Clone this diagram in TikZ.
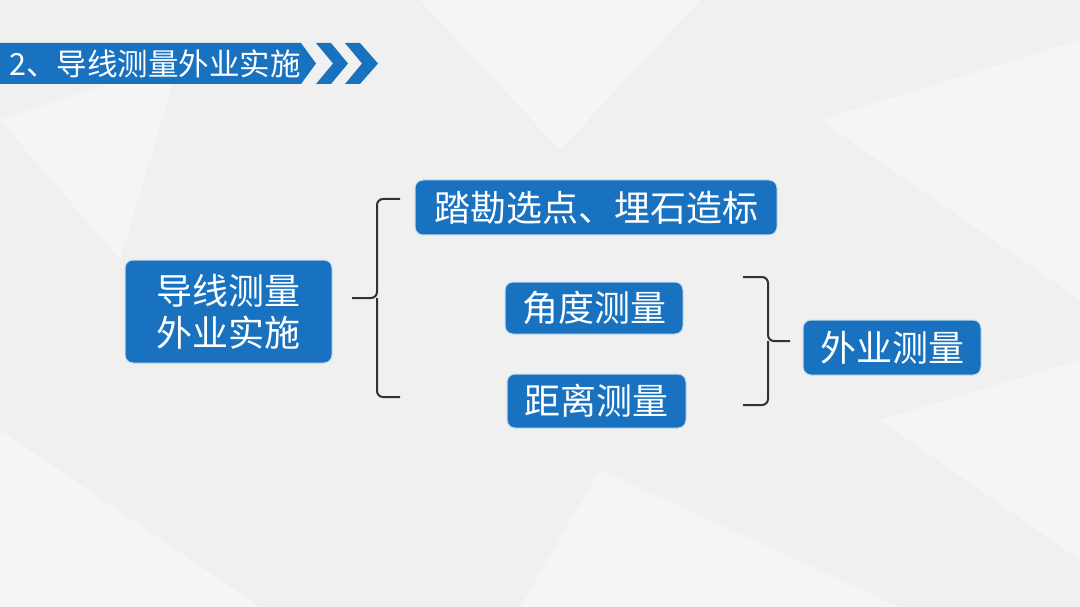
\documentclass[tikz,border=0pt]{standalone}
\usepackage{fontspec}
\setmainfont{Noto Sans CJK SC}
\definecolor{boxblue}{RGB}{24,114,192}
\definecolor{bg}{RGB}{240,240,241}
\definecolor{bgl}{RGB}{245,245,246}
\definecolor{bracecol}{RGB}{50,50,50}
\tikzset{
  bluebox/.style={fill=boxblue, draw=white!75!boxblue, line width=1pt, rounded corners=8pt,
    text=white, font=\fontsize{36}{40}\selectfont, align=center, inner sep=0pt},
  bracepath/.style={draw=bracecol, line width=2pt, rounded corners=6pt}
}
\begin{document}
\begin{tikzpicture}[x=1pt,y=-1pt]
\useasboundingbox (0,0) rectangle (1080,607);
\fill[bg] (0,0) rectangle (1080,607);
% faint background facets
\fill[bgl] (0,120) -- (180,60) -- (120,260) -- cycle;
\fill[bgl] (420,0) -- (700,0) -- (560,150) -- cycle;
\fill[bgl] (820,120) -- (1080,40) -- (1080,300) -- cycle;
\fill[bgl] (0,430) -- (260,607) -- (0,607) -- cycle;
\fill[bgl] (600,470) -- (900,607) -- (520,607) -- cycle;
\fill[bgl] (880,420) -- (1080,360) -- (1080,560) -- cycle;
% title banner
\fill[boxblue] (0,43) -- (301,43) -- (316,63.5) -- (301,84) -- (0,84) -- cycle;
\fill[boxblue] (316,43) -- (331,43) -- (348,63.5) -- (331,84) -- (316,84) -- (333,63.5) -- cycle;
\fill[boxblue] (345,43) -- (360,43) -- (378,63.5) -- (360,84) -- (345,84) -- (362,63.5) -- cycle;
\node[anchor=west, text=white, font=\fontsize{30.5}{33}\selectfont, inner sep=0pt] (title) at (9,64) {2、导线测量外业实施};
% boxes
\node[bluebox, minimum width=207pt, minimum height=103pt] (main) at (228.5,311.5) {导线测量\\[2pt]外业实施};
\node[bluebox, minimum width=362pt, minimum height=55pt] (site) at (596,207.5) {踏勘选点、埋石造标};
\node[bluebox, minimum width=178pt, minimum height=52pt] (angle) at (594,308) {角度测量};
\node[bluebox, minimum width=179pt, minimum height=54pt] (dist) at (596.5,401) {距离测量};
\node[bluebox, minimum width=178pt, minimum height=55pt] (field) at (892,347.5) {外业测量};
% left brace
\coordinate (lt) at (400,199);
\coordinate (lb) at (400,397);
\coordinate (ltip) at (352,298);
\draw[bracepath] (lt) -- (377,199) -- (377,298) -- (ltip);
\draw[bracepath] (lb) -- (377,397) -- (377,298);
% right brace
\coordinate (rt) at (743,277);
\coordinate (rb) at (743,405);
\coordinate (rtip) at (790,341);
\draw[bracepath] (rt) -- (768,277) -- (768,341) -- (rtip);
\draw[bracepath] (rb) -- (768,405) -- (768,341);
\end{tikzpicture}
\end{document}
